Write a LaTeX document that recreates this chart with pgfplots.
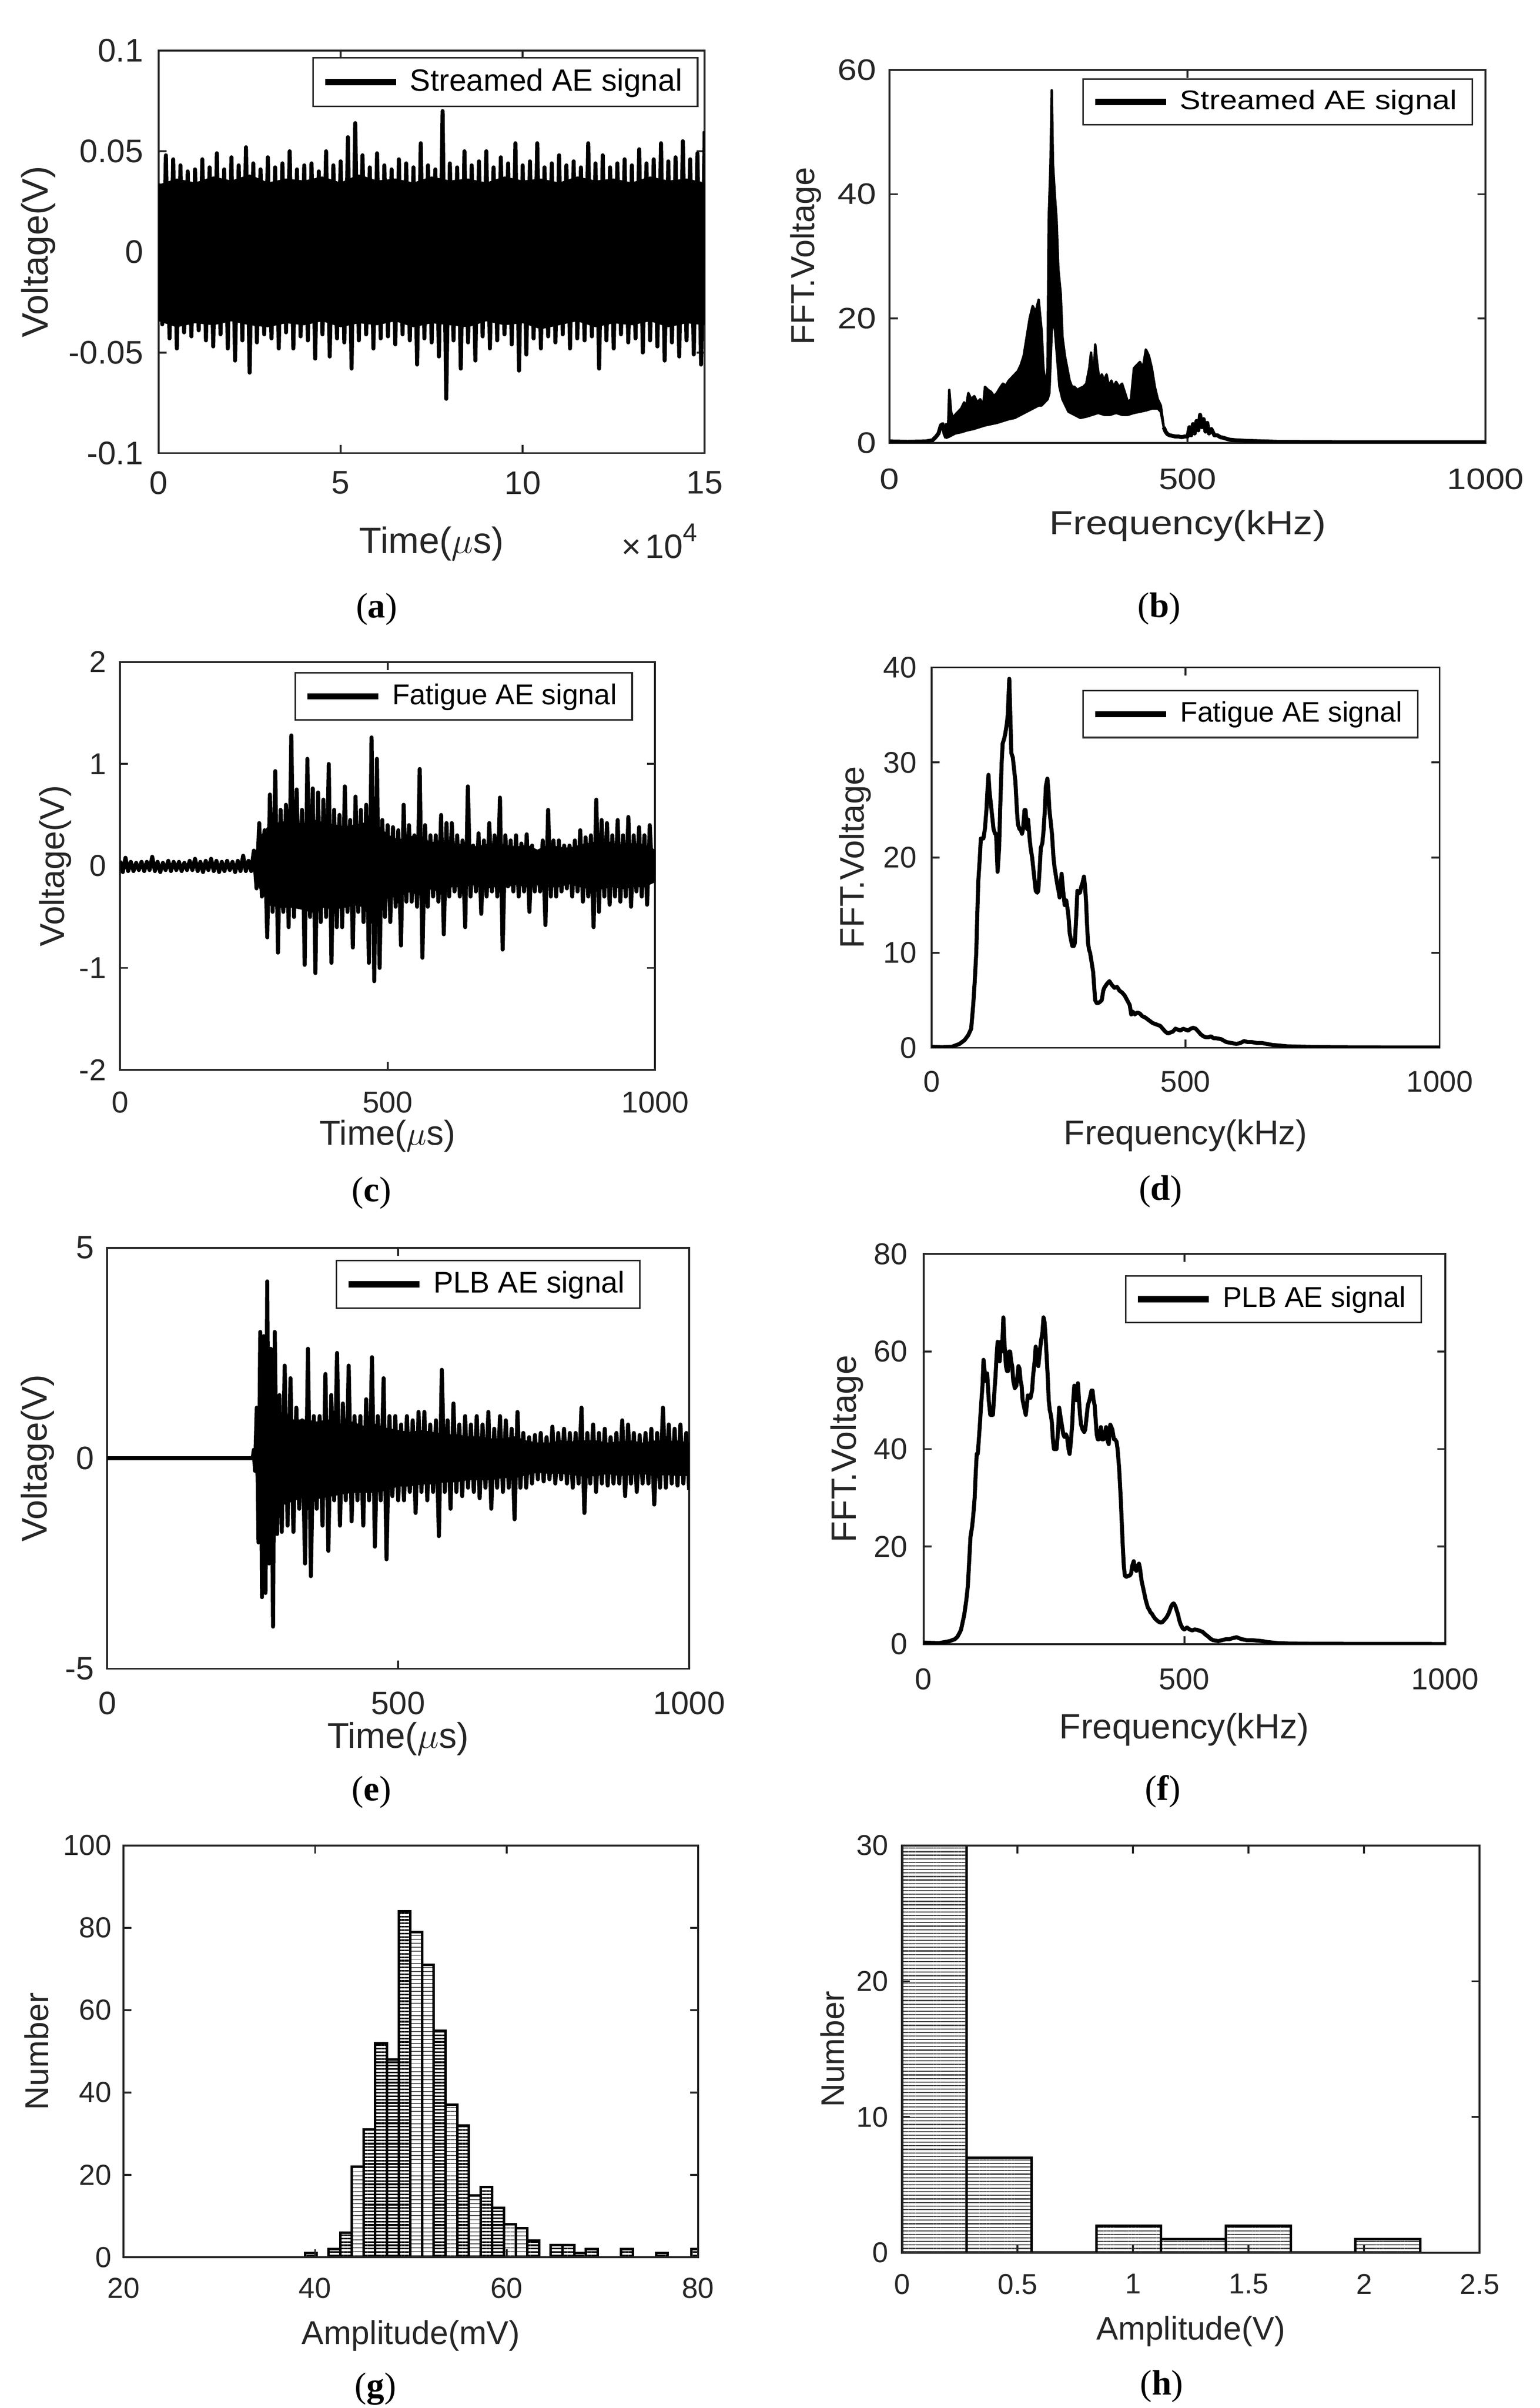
\documentclass[border=0pt]{standalone}
\usepackage{fontspec}
\setmainfont{Liberation Sans}
\newfontfamily\bfont{Liberation Sans}[FakeStretch=1.17]
\newfontfamily\capfont{Liberation Serif}
\usepackage{pgfplots}
\pgfplotsset{compat=1.18}
\usetikzlibrary{patterns.meta}
\definecolor{mgray}{HTML}{262626}
\newcommand{\fs}[1]{\fontsize{#1pt}{#1pt}\selectfont}
\pgfplotsset{
 mbase/.style={
  scale only axis, anchor=south west, enlargelimits=false,
  axis line style={mgray, line width=0.6pt},
  tick style={mgray, line width=0.6pt},
  tick align=inside, xtick pos=both, ytick pos=both,
  major tick length=2.6pt,
  scaled ticks=false,
  /pgf/number format/assume math mode=true,
  tick label style={text=mgray},
  legend cell align=left,
  legend image code/.code={\draw[line width=2pt, black, solid] (0pt,0pt) -- (23pt,0pt);},
  legend style={draw=mgray, line width=0.5pt, fill=white, text=black, inner xsep=3pt, inner ysep=1.5pt, anchor=north east, column sep=1.5pt, nodes={inner sep=2pt}},
 },
 mxl/.style={every axis x label/.style={at={([yshift=-#1]axis description cs:0.5,0)}, anchor=base, text=mgray}},
 myl/.style={every axis y label/.style={at={([xshift=-#1]axis description cs:0,0.5)}, anchor=center, rotate=90, text=mgray}},
 sig/.style={black, line width=1.3pt, line join=round},
 core/.style={black, fill=black, line width=0.6pt, line join=round, forget plot},
}
\begin{document}
\begin{tikzpicture}
\useasboundingbox (0,0) rectangle (500pt,-781.55pt);
% ---------------- (a)
\begin{axis}[mbase, name=axa, at={(51.5pt,-147.05pt)}, width=177.3pt, height=130.6pt,
 xmin=0, xmax=150000, ymin=-0.1, ymax=0.1,
 xtick={0,50000,100000,150000}, xticklabels={0,5,10,15},
 ytick={-0.1,-0.05,0,0.05,0.1}, yticklabels={-0.1,-0.05,0,0.05,0.1},
 tick label style={font=\fs{10.6}}, xticklabel shift=2.4pt, yticklabel shift=1.5pt,
 mxl=32.5pt, myl=39.1pt, label style={font=\fs{11.9}},
 xlabel={Time($\mu$s)}, ylabel={Voltage(V)},
 legend style={at={(1,1)}, xshift=-2.05pt, yshift=-2.1pt, font=\fs{10}}]
\addplot[sig] coordinates {(0,0.034)(1000,-0.036)(2000,0.048)(3000,-0.043)(4000,0.046)(5000,-0.048)(6000,0.043)(7000,-0.040)(8000,0.040)(9000,-0.042)(10000,0.041)(11000,-0.039)(12000,0.046)(13000,-0.044)(14000,0.042)(15000,-0.047)(16000,0.049)(17000,-0.041)(18000,0.041)(19000,-0.048)(20000,0.047)(21000,-0.054)(22000,0.043)(23000,-0.044)(24000,0.052)(25000,-0.060)(26000,0.044)(27000,-0.045)(28000,0.041)(29000,-0.041)(30000,0.047)(31000,-0.043)(32000,0.042)(33000,-0.048)(34000,0.044)(35000,-0.040)(36000,0.050)(37000,-0.048)(38000,0.041)(39000,-0.042)(40000,0.043)(41000,-0.044)(42000,0.044)(43000,-0.053)(44000,0.040)(45000,-0.041)(46000,0.050)(47000,-0.052)(48000,0.043)(49000,-0.043)(50000,0.045)(51000,-0.045)(52000,0.057)(53000,-0.058)(54000,0.064)(55000,-0.044)(56000,0.048)(57000,-0.041)(58000,0.042)(59000,-0.048)(60000,0.049)(61000,-0.043)(62000,0.043)(63000,-0.042)(64000,0.041)(65000,-0.046)(66000,0.046)(67000,-0.041)(68000,0.044)(69000,-0.044)(70000,0.042)(71000,-0.056)(72000,0.054)(73000,-0.043)(74000,0.043)(75000,-0.045)(76000,0.041)(77000,-0.052)(78000,0.070)(79000,-0.073)(80000,0.044)(81000,-0.044)(82000,0.042)(83000,-0.058)(84000,0.050)(85000,-0.045)(86000,0.043)(87000,-0.054)(88000,0.045)(89000,-0.042)(90000,0.050)(91000,-0.048)(92000,0.042)(93000,-0.044)(94000,0.047)(95000,-0.041)(96000,0.044)(97000,-0.046)(98000,0.054)(99000,-0.059)(100000,0.043)(101000,-0.051)(102000,0.045)(103000,-0.043)(104000,0.054)(105000,-0.048)(106000,0.042)(107000,-0.042)(108000,0.044)(109000,-0.045)(110000,0.048)(111000,-0.041)(112000,0.043)(113000,-0.048)(114000,0.045)(115000,-0.043)(116000,0.042)(117000,-0.044)(118000,0.054)(119000,-0.042)(120000,0.044)(121000,-0.058)(122000,0.048)(123000,-0.044)(124000,0.042)(125000,-0.048)(126000,0.044)(127000,-0.041)(128000,0.046)(129000,-0.045)(130000,0.043)(131000,-0.043)(132000,0.051)(133000,-0.050)(134000,0.044)(135000,-0.044)(136000,0.046)(137000,-0.047)(138000,0.054)(139000,-0.054)(140000,0.045)(141000,-0.045)(142000,0.047)(143000,-0.052)(144000,0.055)(145000,-0.044)(146000,0.046)(147000,-0.051)(148000,0.049)(149000,-0.056)(150000,0.060)};
\addlegendentry{Streamed AE signal}
\addplot[core] coordinates {(0,0.033)(5000,0.036)(10000,0.034)(15000,0.037)(20000,0.035)(25000,0.038)(30000,0.034)(35000,0.036)(40000,0.035)(45000,0.037)(50000,0.034)(55000,0.038)(60000,0.035)(65000,0.036)(70000,0.034)(75000,0.037)(80000,0.035)(85000,0.036)(90000,0.034)(95000,0.037)(100000,0.035)(105000,0.036)(110000,0.034)(115000,0.037)(120000,0.035)(125000,0.036)(130000,0.034)(135000,0.037)(140000,0.035)(145000,0.036)(150000,0.034)(150000,-0.036)(145000,-0.035)(140000,-0.037)(135000,-0.034)(130000,-0.036)(125000,-0.035)(120000,-0.037)(115000,-0.034)(110000,-0.036)(105000,-0.038)(100000,-0.035)(95000,-0.036)(90000,-0.034)(85000,-0.037)(80000,-0.036)(75000,-0.035)(70000,-0.037)(65000,-0.034)(60000,-0.036)(55000,-0.035)(50000,-0.037)(45000,-0.034)(40000,-0.036)(35000,-0.035)(30000,-0.037)(25000,-0.036)(20000,-0.034)(15000,-0.036)(10000,-0.035)(5000,-0.037)(0,-0.034)} -- cycle;
\end{axis}
\node[anchor=base east, font=\fs{11}, text=mgray, inner sep=0pt] at ([yshift=-34.05pt,xshift=-2.3pt]axa.south east) {×\hspace{1.2pt}10\raisebox{5.4pt}{\fs{8.3}4}};
% ---------------- (b)
\begin{axis}[mbase, at={(288.85pt,-143.7pt)}, width=193.45pt, height=121.05pt,
 xmin=0, xmax=1000, ymin=0, ymax=60,
 xtick={0,500,1000}, xticklabels={0,500,1000}, ytick={0,20,40,60}, yticklabels={0,20,40,60},
 tick label style={font=\bfont\fs{9.6}}, xticklabel shift=4.8pt, yticklabel shift=0.8pt,
 mxl=29.7pt, myl=27.3pt, x label style={font=\bfont\fs{10.8}}, y label style={font=\fs{10.8}},
 xlabel={Frequency(kHz)}, ylabel={FFT.Voltage},
 legend style={at={(1,1)}, xshift=-4pt, yshift=-2.8pt, font=\bfont\fs{8.7}}]
\addplot[sig] coordinates {(0,0.2)(30,0.15)(60,0.2)(72,0.4)(78,1)(82,1.5)(86,2.8)(89,3)(92,1.5)(95,0.8)};
\addlegendentry{Streamed AE signal}
\addplot[black, fill=black, line width=0.8pt, line join=round] coordinates {(95,3)(98,2)(100,8.5)(103,5)(106,4)(110,4.5)(115,5)(120,5.5)(125,6.5)(128,5.5)(132,8)(137,7)(142,7.5)(147,6.5)(152,7)(157,6)(160,9)(165,8.5)(170,8.2)(175,7.5)(180,8)(185,8.8)(190,9.5)(195,9.2)(200,10)(205,10.5)(210,11)(215,11.5)(220,12.5)(225,14)(230,17)(235,20)(240,22)(245,21)(250,23)(255,18)(258,12)(262,9)(265,12)(267,36)(270,45)(272,56.7)(274,45)(277,40)(280,36)(283,28)(287,24)(290,17)(294,14)(298,12)(302,10)(306,9)(310,9)(315,8.5)(320,8.8)(325,9)(330,9.5)(335,12)(338,14.5)(342,10)(345,15.8)(348,13)(352,10)(356,11)(360,10)(364,11)(368,9)(372,10)(376,9)(380,9.8)(385,9)(390,9.5)(395,8)(400,6.5)(405,7)(410,12)(415,12.5)(420,13)(425,12)(430,15)(435,14)(440,12)(445,9)(450,7)(455,6)(460,2.5)(455,5)(450,5.5)(440,5.5)(430,5.2)(420,5)(410,4.8)(400,4.5)(390,4.5)(380,4.8)(370,4.5)(360,4.5)(350,4.8)(340,4.5)(330,4.2)(320,4)(310,4.5)(300,5)(290,7)(285,9)(280,15)(276,20)(272,18)(268,8)(265,7)(260,6.5)(255,6)(250,6)(240,5.5)(230,5)(220,4.5)(210,4)(200,3.8)(190,3.5)(180,3.2)(170,3)(160,2.8)(150,2.5)(140,2.2)(130,2)(120,1.7)(110,1.5)(100,1)(95,0.8)} -- cycle;
\addplot[sig] coordinates {(460,2.5)(463,1.8)(466,1.4)(470,1.2)(475,1.1)(480,1.0)(485,1.0)(490,0.9)(495,1.0)(500,1.0)(503,2.5)(506,1.2)(509,3)(512,1.5)(515,3.5)(518,2)(521,4.5)(524,2.5)(527,3.8)(530,1.8)(533,3.2)(536,1.5)(540,2.2)(545,1.2)(550,1.2)(555,0.9)(560,0.8)(570,0.5)(580,0.4)(600,0.3)(650,0.15)(700,0.1)(800,0.08)(1000,0.08)};
\end{axis}
% ---------------- (c)
\begin{axis}[mbase, at={(39pt,-347.25pt)}, width=173.7pt, height=132.4pt,
 xmin=0, xmax=1000, ymin=-2, ymax=2,
 xtick={0,500,1000}, xticklabels={0,500,1000}, ytick={-2,-1,0,1,2}, yticklabels={-2,-1,0,1,2},
 tick label style={font=\fs{9.8}}, xticklabel shift=3.6pt, yticklabel shift=1pt,
 mxl=24.3pt, myl=21pt, label style={font=\fs{11.2}},
 xlabel={Time($\mu$s)}, ylabel={Voltage(V)},
 legend style={at={(1,1)}, xshift=-7.2pt, yshift=-3.3pt, font=\fs{9.3}}]
\addplot[sig] coordinates {(0,0.05)(5,-0.06)(10,0.08)(15,-0.05)(20,0.04)(25,-0.05)(30,0.03)(35,-0.04)(40,0.04)(45,-0.05)(50,0.04)(55,-0.04)(60,0.09)(65,-0.05)(70,0.04)(75,-0.06)(80,0.03)(85,-0.04)(90,0.05)(95,-0.05)(100,0.04)(105,-0.04)(110,0.04)(115,-0.05)(120,0.03)(125,-0.04)(130,0.05)(135,-0.04)(140,0.07)(145,-0.05)(150,0.04)(155,-0.06)(160,0.05)(165,-0.04)(170,0.07)(175,-0.05)(180,0.05)(185,-0.06)(190,0.04)(195,-0.05)(200,0.05)(205,-0.04)(210,0.04)(215,-0.06)(220,0.05)(225,-0.05)(230,0.10)(235,-0.05)(240,0.05)(245,-0.05)(250,0.15)(255,-0.22)(260,0.42)(265,-0.30)(270,0.35)(275,-0.70)(280,0.70)(285,-0.45)(290,0.93)(295,-0.85)(300,0.55)(305,-0.45)(310,0.60)(315,-0.60)(320,1.28)(325,-0.50)(330,0.75)(335,-0.40)(340,0.55)(345,-0.97)(350,1.05)(355,-0.50)(360,0.76)(365,-1.05)(370,0.72)(375,-0.55)(380,0.65)(385,-0.50)(390,1.00)(395,-0.95)(400,0.55)(405,-0.60)(410,0.50)(415,-0.60)(420,0.78)(425,-0.45)(430,0.45)(435,-0.80)(440,0.68)(445,-0.45)(450,0.55)(455,-0.55)(460,0.60)(465,-0.95)(470,1.26)(475,-1.13)(480,1.05)(485,-1.00)(490,0.45)(495,-0.50)(500,0.40)(505,-0.55)(510,0.38)(515,-0.40)(520,0.35)(525,-0.78)(530,0.60)(535,-0.35)(540,0.40)(545,-0.35)(550,0.30)(555,-0.40)(560,0.95)(565,-0.90)(570,0.40)(575,-0.40)(580,0.30)(585,-0.30)(590,0.30)(595,-0.35)(600,0.50)(605,-0.67)(610,0.42)(615,-0.30)(620,0.42)(625,-0.25)(630,0.30)(635,-0.30)(640,0.25)(645,-0.60)(650,0.78)(655,-0.30)(660,0.20)(665,-0.25)(670,0.32)(675,-0.47)(680,0.25)(685,-0.30)(690,0.42)(695,-0.25)(700,0.30)(705,-0.30)(710,0.67)(715,-0.82)(720,0.30)(725,-0.20)(730,0.25)(735,-0.25)(740,0.30)(745,-0.30)(750,0.22)(755,-0.25)(760,0.31)(765,-0.45)(770,0.20)(775,-0.25)(780,0.10)(785,-0.25)(790,0.25)(795,-0.58)(800,0.55)(805,-0.30)(810,0.25)(815,-0.30)(820,0.25)(825,-0.25)(830,0.20)(835,-0.22)(840,0.20)(845,-0.30)(850,0.25)(855,-0.25)(860,0.35)(865,-0.35)(870,0.28)(875,-0.30)(880,0.30)(885,-0.60)(890,0.65)(895,-0.45)(900,0.45)(905,-0.30)(910,0.42)(915,-0.38)(920,0.30)(925,-0.30)(930,0.45)(935,-0.35)(940,0.30)(945,-0.30)(950,0.48)(955,-0.40)(960,0.30)(965,-0.25)(970,0.38)(975,-0.30)(980,0.30)(985,-0.38)(990,0.40)(995,-0.15)(1000,0.15)};
\addlegendentry{Fatigue AE signal}
\addplot[core] coordinates {(255,0.15)(265,0.3)(280,0.4)(300,0.42)(320,0.45)(340,0.4)(360,0.45)(380,0.42)(400,0.4)(420,0.38)(440,0.4)(460,0.42)(480,0.4)(500,0.3)(520,0.25)(540,0.28)(560,0.3)(580,0.22)(600,0.25)(620,0.22)(640,0.2)(660,0.18)(680,0.2)(700,0.22)(720,0.2)(740,0.18)(760,0.2)(780,0.15)(800,0.2)(820,0.18)(840,0.17)(860,0.2)(880,0.22)(900,0.25)(920,0.22)(940,0.2)(960,0.22)(980,0.2)(1000,0.15)(1000,-0.15)(980,-0.2)(960,-0.2)(940,-0.22)(920,-0.2)(900,-0.22)(880,-0.22)(860,-0.2)(840,-0.17)(820,-0.2)(800,-0.2)(780,-0.18)(760,-0.2)(740,-0.18)(720,-0.2)(700,-0.2)(680,-0.22)(660,-0.18)(640,-0.2)(620,-0.2)(600,-0.25)(580,-0.22)(560,-0.28)(540,-0.25)(520,-0.3)(500,-0.3)(480,-0.4)(460,-0.4)(440,-0.38)(420,-0.4)(400,-0.42)(380,-0.4)(360,-0.45)(340,-0.42)(320,-0.4)(300,-0.4)(280,-0.38)(265,-0.25)(255,-0.15)} -- cycle;
\end{axis}
% ---------------- (d)
\begin{axis}[mbase, at={(302.45pt,-340.05pt)}, width=164.95pt, height=123.45pt,
 xmin=0, xmax=1000, ymin=0, ymax=40,
 xtick={0,500,1000}, xticklabels={0,500,1000}, ytick={0,10,20,30,40}, yticklabels={0,10,20,30,40},
 tick label style={font=\fs{9.7}}, xticklabel shift=4pt, yticklabel shift=1.3pt,
 mxl=31.4pt, myl=24.8pt, label style={font=\fs{11.1}},
 xlabel={Frequency(kHz)}, ylabel={FFT.Voltage},
 legend style={at={(1,1)}, xshift=-6.9pt, yshift=-7.35pt, font=\fs{9.2}}]
\addplot[sig] coordinates {(0,0.1)(20,0.05)(40,0.1)(55,0.4)(65,0.8)(72,1.3)(78,2.0)(82,4.5)(85,7)(88,10)(90,14)(92,17.5)(95,20)(97,22)(100,22)(102,22)(105,23)(108,25)(110,27)(112,28.7)(114,27)(117,25.5)(120,24)(122,23)(125,22.5)(127,22.5)(130,18.5)(133,21)(135,25)(138,30)(140,32)(143,32.5)(145,33)(148,34)(150,35)(153,38.8)(155,35)(157,31)(160,30.5)(163,29)(165,28)(168,25)(170,23.5)(173,23)(175,23)(178,22.5)(180,23)(183,25)(185,25)(188,23)(190,24)(193,22)(195,21)(198,20)(200,19)(203,17.5)(205,16.5)(208,16.3)(210,16.5)(213,19)(215,21)(218,21.5)(220,22.5)(223,25)(225,27.5)(228,28.3)(230,27)(232,25)(235,23.5)(237,22.5)(240,20)(242,19)(245,18)(248,17)(250,16.5)(252,15.8)(254,17)(256,18.3)(259,16.5)(262,15)(265,15.5)(268,14.5)(270,13.5)(272,12)(275,11.2)(277,10.7)(280,10.7)(282,11)(285,14)(287,16.5)(290,16.3)(292,16.3)(295,17)(297,17.3)(300,18)(302,17)(304,15.5)(306,13)(308,11)(310,10.3)(312,10)(315,9)(318,8)(320,6.5)(322,5)(325,4.7)(328,4.7)(331,4.8)(335,5)(338,6)(340,6.3)(345,6.7)(350,7)(355,6.6)(360,6.3)(365,6.4)(370,6)(375,5.8)(380,5.5)(385,5)(390,4.5)(393,3.5)(396,3.8)(400,3.5)(405,3.7)(410,3.6)(415,3.3)(420,3.2)(425,3)(430,2.8)(435,2.6)(440,2.5)(445,2.4)(450,2.3)(455,2.0)(460,1.7)(465,1.5)(470,1.6)(475,1.7)(480,2.0)(485,1.9)(490,1.8)(495,2.0)(500,1.9)(505,1.8)(510,2.0)(515,2.1)(520,2.0)(525,1.7)(530,1.4)(535,1.2)(540,1.1)(545,1.1)(550,1.2)(555,1.0)(560,1.0)(570,0.9)(580,0.6)(590,0.5)(600,0.4)(608,0.5)(615,0.7)(622,0.6)(630,0.6)(640,0.5)(650,0.5)(660,0.4)(670,0.3)(680,0.25)(690,0.2)(700,0.15)(720,0.12)(750,0.08)(800,0.05)(900,0.03)(1000,0.02)};
\addlegendentry{Fatigue AE signal}
\end{axis}
% ---------------- (e)
\begin{axis}[mbase, at={(34.8pt,-541.6pt)}, width=188.95pt, height=136.65pt,
 xmin=0, xmax=1000, ymin=-5, ymax=5,
 xtick={0,500,1000}, xticklabels={0,500,1000}, ytick={-5,0,5}, yticklabels={-5,0,5},
 tick label style={font=\fs{10.5}}, xticklabel shift=4pt, yticklabel shift=0.7pt,
 mxl=25.8pt, myl=22.6pt, label style={font=\fs{11.6}},
 xlabel={Time($\mu$s)}, ylabel={Voltage(V)},
 legend style={at={(1,1)}, xshift=-15.75pt, yshift=-3.85pt, font=\fs{9.7}}]
\addplot[sig] coordinates {(0,0)(250,0)(252,0.2)(254,-0.3)(257,1.2)(260,-2.0)(263,3.0)(266,-3.3)(269,2.9)(272,-3.2)(275,4.2)(278,-2.5)(281,2.6)(285,-4.0)(288,3.0)(292,-1.8)(296,1.5)(300,-1.75)(305,2.2)(310,-1.6)(315,1.9)(320,-1.75)(325,1.2)(330,-1.2)(335,0.9)(340,-2.5)(345,2.6)(350,-2.8)(355,1.0)(360,-1.2)(365,1.0)(370,-1.6)(375,2.0)(380,-2.2)(385,1.5)(390,-1.0)(395,2.5)(400,-1.6)(405,1.3)(410,-1.0)(415,2.2)(420,-1.5)(425,1.0)(430,-1.0)(435,1.0)(440,-1.6)(445,1.4)(450,-1.0)(455,2.4)(460,-2.1)(465,1.0)(470,-1.0)(475,1.9)(480,-2.4)(485,1.0)(490,-0.9)(495,1.0)(500,-1.0)(505,0.8)(510,-1.0)(515,1.0)(520,-0.8)(525,0.9)(530,-1.3)(535,1.1)(540,-0.8)(545,1.1)(550,-1.0)(555,0.8)(560,-0.8)(565,0.9)(570,-1.85)(575,2.1)(580,-0.8)(585,0.9)(590,-1.2)(595,1.3)(600,-0.8)(605,0.8)(610,-0.9)(615,1.0)(620,-0.7)(625,0.8)(630,-0.8)(635,1.0)(640,-0.95)(645,0.8)(650,-0.7)(655,1.1)(660,-1.2)(665,0.7)(670,-0.7)(675,1.0)(680,-0.8)(685,0.9)(690,-0.7)(695,0.7)(700,-1.45)(705,1.1)(710,-0.7)(715,0.6)(720,-0.7)(725,0.5)(730,-0.6)(735,0.55)(740,-0.5)(745,0.6)(750,-0.55)(755,0.5)(760,-0.5)(765,0.75)(770,-0.6)(775,0.6)(780,-0.5)(785,0.7)(790,-0.6)(795,0.6)(800,-0.7)(805,0.6)(810,-0.6)(815,1.2)(820,-1.3)(825,0.6)(830,-0.6)(835,0.8)(840,-0.8)(845,0.6)(850,-0.6)(855,0.7)(860,-0.65)(865,0.5)(870,-0.6)(875,0.6)(880,-0.6)(885,0.9)(890,-0.9)(895,0.8)(900,-0.6)(905,0.6)(910,-0.8)(915,0.55)(920,-0.6)(925,0.6)(930,-0.6)(935,0.7)(940,-1.1)(945,0.6)(950,-0.7)(955,1.2)(960,-0.7)(965,0.8)(970,-0.6)(975,0.7)(980,-0.65)(985,0.8)(990,-0.6)(995,0.6)(1000,-0.75)};
\addlegendentry{PLB AE signal}
\addplot[core] coordinates {(256,0.3)(262,1.0)(270,1.4)(280,1.3)(300,1.0)(320,0.9)(340,0.9)(360,0.85)(380,0.9)(400,0.8)(420,0.85)(440,0.75)(460,0.8)(480,0.7)(500,0.65)(520,0.6)(540,0.65)(560,0.6)(580,0.55)(600,0.55)(620,0.5)(640,0.5)(660,0.45)(680,0.45)(700,0.5)(720,0.4)(740,0.35)(760,0.35)(780,0.4)(800,0.38)(820,0.4)(840,0.4)(860,0.35)(880,0.38)(900,0.4)(920,0.35)(940,0.4)(960,0.38)(980,0.4)(1000,0.35)(1000,-0.4)(980,-0.4)(960,-0.38)(940,-0.4)(920,-0.35)(900,-0.38)(880,-0.4)(860,-0.35)(840,-0.4)(820,-0.42)(800,-0.38)(780,-0.35)(760,-0.35)(740,-0.32)(720,-0.38)(700,-0.45)(680,-0.45)(660,-0.5)(640,-0.5)(620,-0.5)(600,-0.55)(580,-0.55)(560,-0.6)(540,-0.6)(520,-0.65)(500,-0.65)(480,-0.75)(460,-0.8)(440,-0.8)(420,-0.8)(400,-0.85)(380,-0.9)(360,-0.95)(340,-0.9)(320,-1.0)(300,-1.1)(280,-1.5)(270,-1.6)(262,-1.2)(256,-0.3)} -- cycle;
\end{axis}
% ---------------- (f)
\begin{axis}[mbase, at={(299.85pt,-533.6pt)}, width=169.35pt, height=126.6pt,
 xmin=0, xmax=1000, ymin=0, ymax=80,
 xtick={0,500,1000}, xticklabels={0,500,1000}, ytick={0,20,40,60,80}, yticklabels={0,20,40,60,80},
 tick label style={font=\fs{9.8}}, xticklabel shift=4.4pt, yticklabel shift=1.7pt,
 mxl=30.7pt, myl=24.9pt, label style={font=\fs{11.4}},
 xlabel={Frequency(kHz)}, ylabel={FFT.Voltage},
 legend style={at={(1,1)}, xshift=-7.5pt, yshift=-6.8pt, font=\fs{9.3}}]
\addplot[sig] coordinates {(0,0.3)(30,0.2)(50,0.6)(60,1)(65,1.5)(70,2.5)(72,3)(75,4.5)(78,6)(82,9)(85,12)(88,18)(90,22)(93,24)(95,26)(98,30)(100,35)(102,39)(104,39)(106,42)(108,45)(110,48.5)(113,53)(115,58.3)(117,56)(118,54)(120,55.5)(122,55.5)(125,50)(128,47)(131,47)(133,47)(136,52)(138,55)(140,59)(142,62)(144,60)(146,58)(148,62)(150,60)(152,64)(153,67)(155,62)(158,57)(160,56)(162,56)(164,60)(166,60)(168,58)(170,57)(172,54)(175,52.5)(178,53)(180,55)(182,57)(184,56.5)(186,54)(188,53)(190,50)(192,49)(194,48)(196,47)(198,49)(200,51)(203,50.5)(205,50.5)(208,52)(210,55)(213,58)(215,61)(217,60)(220,57)(223,60)(225,62)(228,64)(230,67)(232,66)(234,63)(236,59)(238,55)(240,50)(242,48)(244,47)(246,45.5)(248,42)(250,40)(253,40)(255,40)(258,44)(260,48.5)(262,47)(265,45)(268,43)(270,42.5)(273,43)(275,42.5)(278,40)(280,39)(282,41)(285,45)(287,50)(289,53)(291,51)(293,50)(295,52)(296,53.5)(298,50)(300,47)(302,45)(305,44)(308,43.5)(310,44)(313,47)(315,49)(318,50)(320,51)(322,52)(324,52)(326,50)(328,49)(330,46)(332,43)(334,42)(336,42)(338,43)(340,44.5)(342,42)(345,42)(348,43.5)(350,44.5)(352,42)(355,41)(358,45)(360,44.5)(362,44)(365,42)(367,42)(370,41.5)(372,40)(375,36)(378,30)(380,25)(382,20)(384,16)(386,14)(389,13.8)(392,14)(395,14)(398,14.5)(400,16)(403,17)(405,15.5)(408,15)(410,16)(413,16.5)(415,15.5)(418,13)(420,12)(423,10.5)(426,9)(430,7.5)(433,7)(435,6.5)(438,6.2)(440,5.8)(444,5.2)(448,4.8)(452,4.5)(455,4.4)(458,4.5)(462,5)(466,5.5)(470,6.3)(473,7.2)(475,7.8)(478,8.3)(480,8.3)(483,7.7)(485,7)(488,6)(490,5)(493,4)(497,3.2)(500,3.0)(505,3.4)(510,3.0)(515,2.8)(520,3.0)(525,2.9)(530,2.7)(535,2.5)(540,2.0)(545,1.6)(550,1.1)(555,0.8)(560,0.7)(565,0.6)(572,0.8)(580,1.0)(586,1.0)(592,1.2)(600,1.4)(605,1.2)(610,1.0)(615,0.9)(620,0.8)(630,0.8)(640,0.7)(650,0.6)(660,0.4)(670,0.3)(680,0.2)(700,0.12)(750,0.06)(800,0.05)(1000,0.02)};
\addlegendentry{PLB AE signal}
\end{axis}
% ---------------- (g)
\begin{axis}[mbase, at={(40.1pt,-732.6pt)}, width=186.55pt, height=133.65pt, axis on top,
 xmin=20, xmax=80, ymin=0, ymax=100,
 xtick={20,40,60,80}, xticklabels={20,40,60,80}, ytick={0,20,40,60,80,100}, yticklabels={0,20,40,60,80,100},
 tick label style={font=\fs{9.4}}, xticklabel shift=3.2pt, yticklabel shift=0.4pt,
 mxl=28.3pt, myl=28.2pt, label style={font=\fs{10.7}},
 xlabel={Amplitude(mV)}, ylabel={Number}]
\addplot[ybar interval, draw=black, line width=0.8pt, pattern={Lines[angle=0,distance=1.1pt,line width=0.5pt]}, pattern color=black] coordinates {(38.96,1)(40.18,0)(41.40,2)(42.63,6)(43.85,0)(45.07,31)(46.29,52)(47.51,48)(48.74,84)(49.96,0)(51.18,0)(52.40,55)(53.62,0)(54.85,32)(56.07,0)(57.29,17)(58.51,12)(59.73,0)(60.96,0)(62.18,4)(63.40,0)(64.62,3)(65.84,3)(67.07,1)(68.29,2)(69.51,0)(70.73,0)(71.95,2)(73.18,0)(74.40,0)(75.62,1)(76.84,0)(78.06,0)(79.29,2)(80.51,0)};
\addplot[ybar interval, draw=black, line width=0.8pt, pattern={Lines[angle=0,distance=1.3pt,line width=0.3pt]}, pattern color=black!65] coordinates {(43.85,22)(45.07,0)(46.29,0)(47.51,0)(48.74,0)(49.96,79)(51.18,71)(52.40,0)(53.62,37)(54.85,0)(56.07,15)(57.29,0)(58.51,0)(59.73,8)(60.96,7)(62.18,0)};
\end{axis}
% ---------------- (h)
\begin{axis}[mbase, at={(292.85pt,-731.15pt)}, width=187.55pt, height=132.2pt, axis on top,
 xmin=0, xmax=2.5, ymin=0, ymax=30,
 xtick={0,0.5,1,1.5,2,2.5}, xticklabels={0,0.5,1,1.5,2,2.5}, ytick={0,10,20,30}, yticklabels={0,10,20,30},
 tick label style={font=\fs{9.3}}, xticklabel shift=3.4pt, yticklabel shift=0.9pt,
 mxl=28.3pt, myl=22.5pt, label style={font=\fs{10.6}},
 xlabel={Amplitude(V)}, ylabel={Number}]
\addplot[ybar interval, draw=black, line width=0.8pt, pattern={Lines[angle=0,distance=1.15pt,line width=0.35pt]}, pattern color=black!75] coordinates {(0,30)(0.2804,7)(0.5608,0)(0.8412,2)(1.1216,1)(1.4020,2)(1.6824,0)(1.9628,1)(2.2432,0)};
\end{axis}
% ---------------- captions
\node[anchor=base, font=\capfont\fs{11.5}] at (122.3pt,-200.5pt) {(\textbf{a})};
\node[anchor=base, font=\capfont\fs{11.5}] at (376.35pt,-200.3pt) {(\textbf{b})};
\node[anchor=base, font=\capfont\fs{11.5}] at (120.65pt,-390pt) {(\textbf{c})};
\node[anchor=base, font=\capfont\fs{11.5}] at (376.8pt,-389.5pt) {(\textbf{d})};
\node[anchor=base, font=\capfont\fs{11.5}] at (120.65pt,-584.5pt) {(\textbf{e})};
\node[anchor=base, font=\capfont\fs{11.5}] at (377.55pt,-584.2pt) {(\textbf{f})};
\node[anchor=base, font=\capfont\fs{11.5}] at (121.95pt,-778pt) {(\textbf{g})};
\node[anchor=base, font=\capfont\fs{11.5}] at (377.15pt,-777.2pt) {(\textbf{h})};
\end{tikzpicture}
\end{document}
